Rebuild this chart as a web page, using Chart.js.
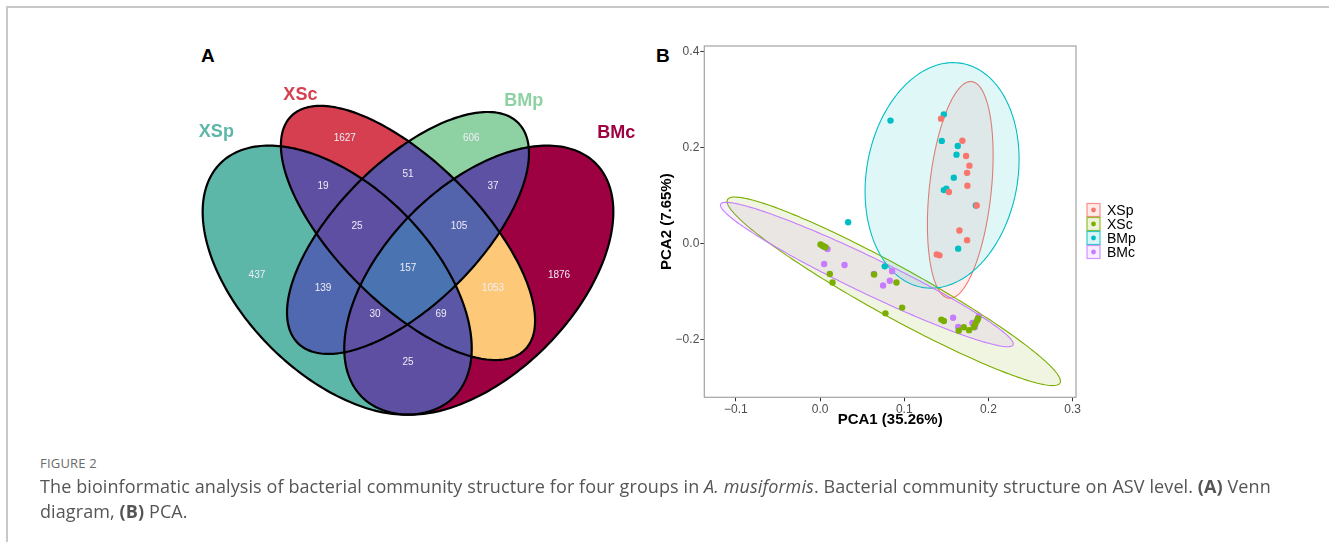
<!DOCTYPE html>
<html>
<head>
<meta charset="utf-8">
<script src="https://cdn.jsdelivr.net/npm/chart.js@4.4.1/dist/chart.umd.min.js"></script>
<style>
  html, body { margin: 0; padding: 0; background: #fff; }
  #page { position: relative; width: 1329px; height: 542px; overflow: hidden; font-family: 'Liberation Sans', Arial, sans-serif; }
  .frame-top { position: absolute; left: 7px; top: 6px; right: 0; height: 2px; background: #c8c8c8; }
  .frame-left { position: absolute; left: 6px; top: 6px; bottom: 0; width: 2px; background: #c8c8c8; }
  #venn { position: absolute; left: 172px; top: 30px; }
  #pca { position: absolute; left: 640px; top: 36px; }
  .panel-tag { position: absolute; font: bold 19px 'Liberation Sans', Arial, sans-serif; color: #000; line-height: 1; }
  #cap-label { position: absolute; left: 40px; top: 454px; font: 13px 'Open Sans', sans-serif; color: #6b6b6b; letter-spacing: 0.2px; }
  #cap-text { position: absolute; left: 40px; top: 474px; font: 18px/25px 'Open Sans', sans-serif; letter-spacing: 0.1px; color: #555; white-space: nowrap; }
</style>
</head>
<body>
<div id="page">
  <div class="frame-top"></div>
  <div class="frame-left"></div>
  <div class="panel-tag" style="left:201px;top:46px;">A</div>
  <div class="panel-tag" style="left:656px;top:46px;">B</div>
  <canvas id="venn" width="472" height="472"></canvas>
  <canvas id="pca" width="540" height="400"></canvas>
  <div id="cap-label">FIGURE 2</div>
  <div id="cap-text">The bioinformatic analysis of bacterial community structure for four groups in <i>A. musiformis</i>. Bacterial community structure on ASV level. <b>(A)</b> Venn<br>diagram, <b>(B)</b> PCA.</div>
</div>
<script>
// ---------------- Venn diagram data ----------------
const vennSets = ['XSp', 'XSc', 'BMp', 'BMc'];
// membership of each region (indices into vennSets)
const regionSets = [[0], [1], [2], [3], [0, 1], [1, 2], [2, 3], [0, 3], [0, 1, 2], [1, 2, 3], [0, 2, 3], [0, 1, 3], [0, 2], [1, 3], [0, 1, 2, 3]];
const regionCounts = [437, 1627, 606, 1876, 19, 51, 37, 25, 25, 105, 30, 69, 139, 1053, 157];

// ---------------- PCA data ----------------
const xspX = [0.1437, 0.169, 0.1734, 0.1774, 0.1746, 0.175, 0.153, 0.186, 0.1655, 0.1746, 0.1386, 0.1418];
const xspY = [0.261, 0.215, 0.183, 0.163, 0.148, 0.121, 0.108, 0.080, 0.0277, 0.0077, -0.022, -0.024];
const xscX = [0.0005, 0.003, 0.0044, 0.0064, 0.0115, 0.0147, 0.0642, 0.0907, 0.0974, 0.0776, 0.144, 0.147, 0.1647, 0.1707, 0.177, 0.1826, 0.1845, 0.1865, 0.1876];
const xscY = [-0.0015, -0.004, -0.0056, -0.007, -0.063, -0.0806, -0.064, -0.0806, -0.133, -0.145, -0.158, -0.161, -0.181, -0.174, -0.180, -0.1735, -0.1667, -0.160, -0.1556];
const bmpX = [0.0836, 0.147, 0.1445, 0.1635, 0.162, 0.1588, 0.150, 0.147, 0.185, 0.164, 0.0333, 0.0768];
const bmpY = [0.257, 0.270, 0.2146, 0.204, 0.186, 0.138, 0.115, 0.112, 0.080, -0.010, 0.045, -0.047];
const bmcX = [0.0088, 0.0048, 0.029, 0.0638, 0.0855, 0.0828, 0.0748, 0.158, 0.164, 0.181, 0.1837, 0.1885];
const bmcY = [-0.011, -0.042, -0.044, -0.063, -0.057, -0.077, -0.087, -0.154, -0.1735, -0.165, -0.174, -0.1514];

// 95% confidence ellipses: centre and two conjugate semi-axis vectors (data units)
const ellipseXSp = { cx: 0.1665, cy: 0.1125, ux: 0.01354, uy: 0.2258, vx: 0.0366, vy: -0.0067 };
const ellipseXSc = { cx: 0.0875, cy: -0.099, ux: 0.1975, uy: -0.1912, vx: 0.01434, vy: 0.0456 };
const ellipseBMp = { cx: 0.1449, cy: 0.1427, ux: 0.02347, uy: 0.2335, vx: 0.08842, vy: -0.02735 };
const ellipseBMc = { cx: 0.0555, cy: -0.064, ux: 0.1737, uy: -0.1467, vx: 0.00927, vy: 0.0338 };

const xTicks = [-0.1, 0.0, 0.1, 0.2, 0.3];
const xTickLabels = ['\u22120.1', '0.0', '0.1', '0.2', '0.3'];
const yTicks = [-0.2, 0.0, 0.2, 0.4];
const yTickLabels = ['\u22120.2', '0.0', '0.2', '0.4'];

// ---------------- Venn layout (unit square) ----------------
const vennEllipses = [
  { x: 0.35, y: 0.47, a: 0.35, b: 0.20, rot: 135 },
  { x: 0.50, y: 0.57, a: 0.35, b: 0.15, rot: 135 },
  { x: 0.50, y: 0.57, a: 0.33, b: 0.15, rot: 45 },
  { x: 0.65, y: 0.47, a: 0.35, b: 0.20, rot: 45 }
];
const regionColors = ['#5db7a9', '#d63f4f', '#8ed1a3', '#9e0142', '#5e4fa2', '#5c54a5', '#5d51a3', '#5e4fa2',
                      '#5e4fa2', '#5464ac', '#5e50a2', '#5b57a6', '#4f68af', '#fdc979', '#4a73b1'];
const regionLabelX = [0.18, 0.366, 0.634, 0.82, 0.32, 0.5, 0.68, 0.5, 0.392, 0.608, 0.43, 0.57, 0.32, 0.68, 0.5];
const regionLabelY = [0.48, 0.77, 0.77, 0.48, 0.67, 0.695, 0.67, 0.296, 0.585, 0.585, 0.398, 0.398, 0.452, 0.452, 0.496];
const setLabelX = [0.094, 0.272, 0.745, 0.941];
const setLabelY = [0.783, 0.862, 0.850, 0.782];
const setColors = ['#5db7a9', '#d63f4f', '#8ed1a3', '#9e0142'];

function vennPath(ctx, chart, e) {
  const xs = chart.scales.x, ys = chart.scales.y;
  const r = e.rot * Math.PI / 180, N = 240;
  for (let k = 0; k <= N; k++) {
    const t = 2 * Math.PI * k / N;
    const ex = e.a * Math.cos(t), ey = e.b * Math.sin(t);
    const px = xs.getPixelForValue(e.x + ex * Math.cos(r) - ey * Math.sin(r));
    const py = ys.getPixelForValue(e.y + ex * Math.sin(r) + ey * Math.cos(r));
    if (k === 0) ctx.moveTo(px, py); else ctx.lineTo(px, py);
  }
  ctx.closePath();
}

const vennPlugin = {
  id: 'vennRegions',
  beforeDatasetsDraw(chart) {
    const ctx = chart.ctx;
    regionSets.forEach((sets, i) => {
      ctx.save();
      vennEllipses.forEach((e, j) => {
        ctx.beginPath();
        if (sets.includes(j)) {
          vennPath(ctx, chart, e);
          ctx.clip();
        } else {
          ctx.rect(0, 0, chart.width, chart.height);
          vennPath(ctx, chart, e);
          ctx.clip('evenodd');
        }
      });
      ctx.fillStyle = regionColors[i];
      ctx.fillRect(0, 0, chart.width, chart.height);
      ctx.restore();
    });
    ctx.save();
    ctx.strokeStyle = '#000';
    ctx.lineWidth = 2.2;
    vennEllipses.forEach(e => { ctx.beginPath(); vennPath(ctx, chart, e); ctx.stroke(); });
    ctx.restore();
  },
  afterDatasetsDraw(chart) {
    const ctx = chart.ctx;
    const meta = chart.getDatasetMeta(0);
    ctx.save();
    ctx.textAlign = 'center';
    ctx.textBaseline = 'middle';
    ctx.font = '10px "Liberation Sans", Arial, sans-serif';
    ctx.fillStyle = '#efedf6';
    meta.data.forEach((pt, i) => ctx.fillText(String(regionCounts[i]), pt.x, pt.y));
    ctx.font = 'bold 18px "Liberation Sans", Arial, sans-serif';
    vennSets.forEach((name, i) => {
      ctx.fillStyle = setColors[i];
      ctx.fillText(name, chart.scales.x.getPixelForValue(setLabelX[i]), chart.scales.y.getPixelForValue(setLabelY[i]));
    });
    ctx.restore();
  }
};

new Chart(document.getElementById('venn'), {
  type: 'scatter',
  data: {
    datasets: [{
      label: 'counts',
      data: regionLabelX.map((x, i) => ({ x, y: regionLabelY[i] })),
      pointRadius: 0
    }]
  },
  options: {
    responsive: false,
    animation: false,
    layout: { padding: 0 },
    plugins: { legend: { display: false }, tooltip: { enabled: false } },
    scales: {
      x: { type: 'linear', min: 0, max: 1, display: false },
      y: { type: 'linear', min: 0, max: 1, display: false }
    }
  },
  plugins: [vennPlugin]
});

// ---------------- PCA scatter ----------------
const groups = [
  { name: 'XSp', xs: xspX, ys: xspY, color: '#F8766D', ell: ellipseXSp },
  { name: 'XSc', xs: xscX, ys: xscY, color: '#7CAE00', ell: ellipseXSc },
  { name: 'BMp', xs: bmpX, ys: bmpY, color: '#00BFC4', ell: ellipseBMp },
  { name: 'BMc', xs: bmcX, ys: bmcY, color: '#C77CFF', ell: ellipseBMc }
];

function withAlpha(hex, a) {
  const n = parseInt(hex.slice(1), 16);
  return `rgba(${(n >> 16) & 255},${(n >> 8) & 255},${n & 255},${a})`;
}

const pcaPlugin = {
  id: 'pcaDecor',
  beforeDatasetsDraw(chart) {
    const ctx = chart.ctx, xs = chart.scales.x, ys = chart.scales.y, area = chart.chartArea;
    ctx.save();
    ctx.beginPath();
    ctx.rect(area.left, area.top, area.right - area.left, area.bottom - area.top);
    ctx.clip();
    groups.forEach(g => {
      const e = g.ell, N = 240;
      ctx.beginPath();
      for (let k = 0; k <= N; k++) {
        const t = 2 * Math.PI * k / N;
        const px = xs.getPixelForValue(e.cx + e.ux * Math.cos(t) + e.vx * Math.sin(t));
        const py = ys.getPixelForValue(e.cy + e.uy * Math.cos(t) + e.vy * Math.sin(t));
        if (k === 0) ctx.moveTo(px, py); else ctx.lineTo(px, py);
      }
      ctx.closePath();
      ctx.fillStyle = withAlpha(g.color, 0.12);
      ctx.fill();
      ctx.strokeStyle = g.color;
      ctx.lineWidth = 1.1;
      ctx.stroke();
    });
    ctx.restore();
  },
  afterDraw(chart) {
    const ctx = chart.ctx, area = chart.chartArea;
    ctx.save();
    // panel border
    ctx.strokeStyle = '#a3a3a3';
    ctx.lineWidth = 1.2;
    ctx.strokeRect(area.left, area.top, area.right - area.left, area.bottom - area.top);
    // axis titles
    ctx.fillStyle = '#000';
    ctx.font = 'bold 15px "Liberation Sans", Arial, sans-serif';
    ctx.textAlign = 'center';
    ctx.textBaseline = 'middle';
    ctx.fillText('PCA1 (35.26%)', (area.left + area.right) / 2, area.bottom + 23);
    ctx.save();
    ctx.translate(area.left - 37, (area.top + area.bottom) / 2);
    ctx.rotate(-Math.PI / 2);
    ctx.fillText('PCA2 (7.65%)', 0, 0);
    ctx.restore();
    // legend
    const lx = area.right + 11, ly0 = area.top + 164, step = 14;
    ctx.textAlign = 'left';
    ctx.font = '14px "Liberation Sans", Arial, sans-serif';
    groups.forEach((g, i) => {
      const cy = ly0 + i * step;
      ctx.fillStyle = withAlpha(g.color, 0.14);
      ctx.fillRect(lx, cy - 6.5, 13, 13);
      ctx.strokeStyle = withAlpha(g.color, 0.8);
      ctx.lineWidth = 1.2;
      ctx.strokeRect(lx, cy - 6.5, 13, 13);
      ctx.beginPath();
      ctx.arc(lx + 6.5, cy, 2.4, 0, Math.PI * 2);
      ctx.fillStyle = g.color;
      ctx.fill();
      ctx.fillStyle = '#000';
      ctx.fillText(g.name, lx + 20, cy + 1);
    });
    ctx.restore();
  }
};

new Chart(document.getElementById('pca'), {
  type: 'scatter',
  data: {
    datasets: groups.map(g => ({
      label: g.name,
      data: g.xs.map((x, i) => ({ x, y: g.ys[i] })),
      backgroundColor: g.color,
      borderColor: g.color,
      borderWidth: 0,
      pointRadius: 3.2
    }))
  },
  options: {
    responsive: false,
    animation: false,
    layout: { padding: { top: 10, right: 104, left: 0, bottom: 0 } },
    plugins: { legend: { display: false }, tooltip: { enabled: false } },
    scales: {
      x: {
        type: 'linear', min: -0.1376, max: 0.304,
        afterBuildTicks: s => { s.ticks = xTicks.map(v => ({ value: v })); },
        afterFit: s => { s.height = 38.7; },
        ticks: { callback: (v, i) => xTickLabels[i], color: '#4d4d4d', font: { size: 12, family: '"Liberation Sans", Arial, sans-serif' }, padding: 1, maxRotation: 0, autoSkip: false },
        grid: { display: true, drawOnChartArea: false, drawTicks: true, tickLength: 4, color: '#333', lineWidth: 1 },
        border: { display: false }
      },
      y: {
        type: 'linear', min: -0.32, max: 0.4125,
        afterBuildTicks: s => { s.ticks = yTicks.map(v => ({ value: v })); },
        afterFit: s => { s.width = 64.3; },
        ticks: { callback: (v, i) => yTickLabels[i], color: '#4d4d4d', font: { size: 12, family: '"Liberation Sans", Arial, sans-serif' }, padding: 1, autoSkip: false },
        grid: { display: true, drawOnChartArea: false, drawTicks: true, tickLength: 4, color: '#333', lineWidth: 1 },
        border: { display: false }
      }
    }
  },
  plugins: [pcaPlugin]
});
</script>
</body>
</html>
